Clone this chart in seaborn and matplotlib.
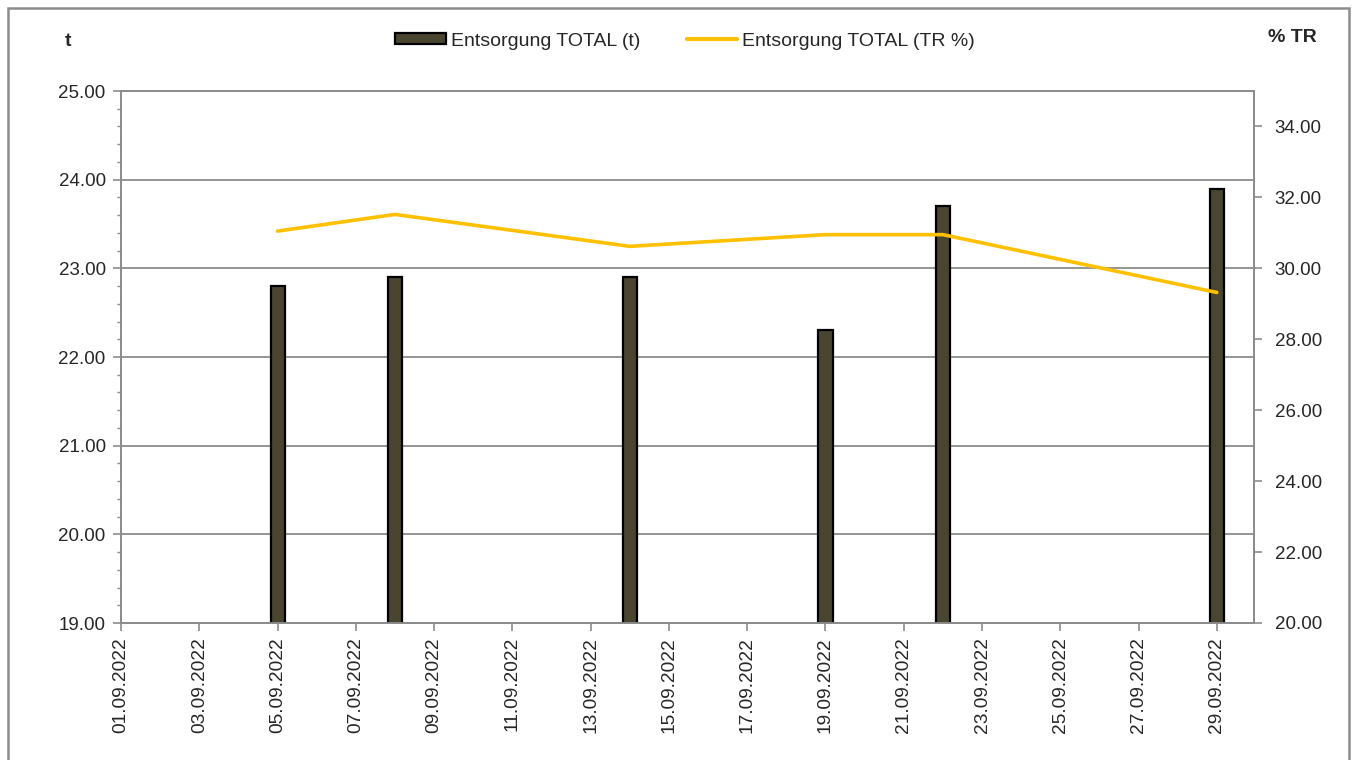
import matplotlib
matplotlib.use("Agg")
import matplotlib.pyplot as plt
import seaborn as sns
import pandas as pd
import numpy as np
from matplotlib.patches import Rectangle
from matplotlib.lines import Line2D
from matplotlib.patches import Patch

sns.set_style("white")
plt.rcParams['font.family'] = ['Liberation Sans', 'DejaVu Sans']

# ---- data ----
dates = ["05.09.2022", "08.09.2022", "14.09.2022", "19.09.2022", "22.09.2022", "29.09.2022"]
total_t = [22.8, 22.9, 22.9, 22.3, 23.7, 23.9]
total_tr = [31.05, 31.52, 30.62, 30.95, 30.95, 29.32]
tick_dates = ["01.09.2022", "03.09.2022", "05.09.2022", "07.09.2022", "09.09.2022",
              "11.09.2022", "13.09.2022", "15.09.2022", "17.09.2022", "19.09.2022",
              "21.09.2022", "23.09.2022", "25.09.2022", "27.09.2022", "29.09.2022"]
bar_label = "Entsorgung TOTAL (t)"
line_label = "Entsorgung TOTAL (TR %)"

day = [int(d.split(".")[0]) for d in dates]
tick_day = [int(d.split(".")[0]) for d in tick_dates]
df = pd.DataFrame({"day": day, "t": total_t, "tr": total_tr})

GRAY = "#8c8c8c"
BAR = "#4a4530"
LINE = "#FFC000"

fig = plt.figure(figsize=(13.54, 7.60), dpi=100)
ax = fig.add_axes([121/1354, 1-623/760, (1254-121)/1354, (623-91)/760])

sns.barplot(data=df, x="day", y="t", native_scale=True, width=0.12,
            color=BAR, edgecolor="black", linewidth=1.6, saturation=1, ax=ax,
            zorder=3)
ax.set_ylim(19, 25)
ax.set_xlim(1, 29.95)
ax.set_yticks(np.arange(19, 25.01, 1))
ax.set_yticklabels([f"{v:.2f}" for v in np.arange(19, 25.01, 1)], fontsize=13.5)
ax.set_yticks(np.arange(19, 25.01, 0.2), minor=True)
ax.set_xticks(tick_day)
ax.set_xticklabels(tick_dates, rotation=90, fontsize=13.8)
ax.set_xlabel("")
ax.set_ylabel("")
ax.grid(axis="y", which="major", color=GRAY, linewidth=1.3, zorder=0)
ax.set_axisbelow(True)
ax.tick_params(axis="y", which="major", direction="out", length=6, width=1.2, color=GRAY, left=True, pad=5)
ax.tick_params(axis="y", which="minor", direction="out", length=3, width=1.0, color=GRAY, left=True)
ax.tick_params(axis="x", which="major", direction="out", length=6, width=1.2, color=GRAY, bottom=True, pad=4)
for s in ax.spines.values():
    s.set_color(GRAY)
    s.set_linewidth(1.3)

ax2 = ax.twinx()
sns.lineplot(data=df, x="day", y="tr", color=LINE, linewidth=2.6, ax=ax2, zorder=4)
ax2.set_ylim(20, 35)
ax2.set_xlim(1, 29.95)
ax2.set_yticks(np.arange(20, 34.01, 2))
ax2.set_yticklabels([f"{v:.2f}" for v in np.arange(20, 34.01, 2)], fontsize=13.5)
ax2.set_ylabel("")
ax2.tick_params(axis="y", direction="out", length=6, width=1.2, color=GRAY, right=True, pad=9)
for s in ax2.spines.values():
    s.set_color(GRAY)
    s.set_linewidth(1.3)

fig.text(68/1354, 1-42/760, "t", fontsize=14, fontweight="bold", ha="center", va="center")
fig.text(1292/1354, 1-38/760, "% TR", fontsize=14, fontweight="bold", ha="center", va="center")

handles = [Patch(facecolor=BAR, edgecolor="black", linewidth=1.6),
           Line2D([0], [0], color=LINE, linewidth=3)]
fig.legend(handles, [bar_label, line_label], loc="center", bbox_to_anchor=(685/1354, 1-41/760),
           ncol=2, frameon=False, fontsize=14, handlelength=2.6, handleheight=0.5,
           handletextpad=0.25, columnspacing=2.4)

fig.patches.append(Rectangle((8/1354, -0.05), 1341/1354, 1.05 - 8/760, transform=fig.transFigure,
                             fill=False, edgecolor=GRAY, linewidth=1.8))

fig.savefig("out.png", dpi=100)
